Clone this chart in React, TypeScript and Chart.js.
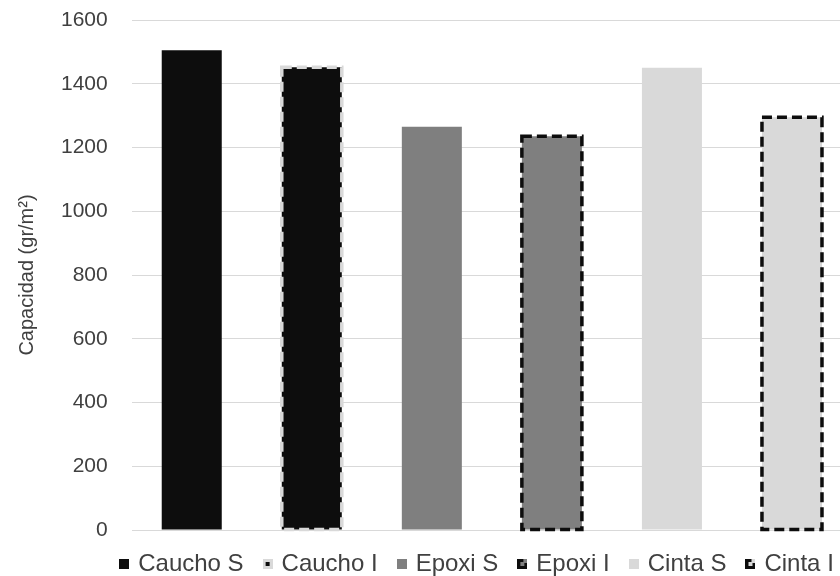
import { useEffect, useRef } from "react";
import { Chart, registerables } from "chart.js";

Chart.register(...registerables);

// Series (one bar each) and their measured capacity, gr/m²
const seriesNames = ["Caucho S", "Caucho I", "Epoxi S", "Epoxi I", "Cinta S", "Cinta I"];
const capacidad = [1505, 1452, 1265, 1235, 1450, 1295];

// Y axis range and step
const yMin = 0;
const yMax = 1600;
const yStep = 200;

// Bar fills, and the colour of the dashed outline (null = plain bar)
const fillColors = ["#0d0d0d", "#0d0d0d", "#7f7f7f", "#7f7f7f", "#d9d9d9", "#d9d9d9"];
const dashColors: (string | null)[] = [null, "#d9d9d9", null, "#0d0d0d", null, "#0d0d0d"];

const FONT = "'Liberation Sans', Arial, sans-serif";
const TEXT_COLOR = "#404040";

// Small legend swatches: plain squares, or a square with a dashed-edge look
function makeMarker(i: number): HTMLCanvasElement {
  const c = document.createElement("canvas");
  c.width = 10;
  c.height = 10;
  const g = c.getContext("2d")!;
  const dash = dashColors[i];
  if (!dash) {
    g.fillStyle = fillColors[i];
    g.fillRect(0, 0, 10, 10);
  } else if (dash === "#d9d9d9") {
    g.fillStyle = dash;
    g.fillRect(0, 0, 10, 10);
    g.fillStyle = fillColors[i];
    g.fillRect(3, 3, 4, 4);
  } else {
    g.fillStyle = fillColors[i];
    g.fillRect(0, 0, 10, 10);
    g.fillStyle = dash;
    g.fillRect(0, 0, 3, 10);
    g.fillRect(0, 7, 10, 3);
    g.fillRect(0, 0, 6, 3);
    g.fillRect(7, 4, 3, 6);
  }
  return c;
}

// Dashed outlines around the "I" bars, drawn on the bar elements' geometry
const dashedOutline = {
  id: "dashedOutline",
  afterDatasetsDraw(chart: any) {
    const ctx = chart.ctx as CanvasRenderingContext2D;
    chart.data.datasets.forEach((ds: any, i: number) => {
      const color = dashColors[i];
      if (!color) return;
      const meta = chart.getDatasetMeta(i);
      meta.data.forEach((bar: any, j: number) => {
        if (ds.data[j] == null) return;
        const { x, y, base, width } = bar.getProps(["x", "y", "base", "width"], true);
        ctx.save();
        ctx.strokeStyle = color;
        ctx.lineWidth = 3.5;
        ctx.setLineDash([10, 5]);
        ctx.strokeRect(x - width / 2, y, width, base - y);
        ctx.restore();
      });
    });
  },
};

// Shift the legend row to the right of the canvas centre
const legendNudge = {
  id: "legendNudge",
  afterLayout(chart: any) {
    const l = chart.legend;
    if (!l) return;
    l.left += 52;
    l.right += 52;
  },
};

export default function App() {
  const canvasRef = useRef<HTMLCanvasElement | null>(null);

  useEffect(() => {
    const canvas = canvasRef.current;
    if (!canvas) return;
    const markers = seriesNames.map((_, i) => makeMarker(i));

    const datasets = seriesNames.map((name, i) => ({
      label: name,
      data: seriesNames.map((_, j) => (j === i ? capacidad[i] : null)),
      backgroundColor: fillColors[i],
      borderWidth: 0,
      skipNull: true,
      categoryPercentage: 0.5,
      barPercentage: 1,
    }));

    const chart = new Chart(canvas, {
      type: "bar",
      data: { labels: seriesNames, datasets },
      plugins: [dashedOutline, legendNudge],
      options: {
        animation: false,
        responsive: false,
        events: [],
        layout: { padding: { left: 0, right: 18, top: 20, bottom: 0 } },
        scales: {
          x: { display: false },
          y: {
            min: yMin,
            max: yMax,
            ticks: {
              stepSize: yStep,
              padding: 0,
              color: TEXT_COLOR,
              font: { family: FONT, size: 21 },
              callback: (v: any) => String(v),
            },
            grid: {
              color: "#d9d9d9",
              lineWidth: 1,
              drawTicks: true,
              tickLength: 24,
              tickColor: "rgba(0,0,0,0)",
            },
            border: { display: false },
            title: {
              display: true,
              text: "Capacidad (gr/m²)",
              color: TEXT_COLOR,
              font: { family: FONT, size: 20 },
              padding: { top: 15, bottom: 22 },
            },
          },
        },
        plugins: {
          tooltip: { enabled: false },
          legend: {
            position: "bottom",
            labels: {
              usePointStyle: true,
              pointStyleWidth: 4,
              padding: 22,
              color: TEXT_COLOR,
              font: { family: FONT, size: 24 },
              generateLabels: () =>
                seriesNames.map((name, i) => ({
                  text: name,
                  pointStyle: markers[i],
                  fillStyle: fillColors[i],
                  strokeStyle: "transparent",
                  lineWidth: 0,
                  hidden: false,
                  datasetIndex: i,
                  fontColor: TEXT_COLOR,
                })),
            },
          },
        },
      },
    } as any);

    return () => chart.destroy();
  }, []);

  return (
    <div
      style={{
        position: "fixed",
        left: 0,
        top: 0,
        width: 840,
        height: 576,
        overflow: "hidden",
        background: "#ffffff",
      }}
    >
      <canvas ref={canvasRef} width={870} height={586} style={{ display: "block" }} />
    </div>
  );
}
